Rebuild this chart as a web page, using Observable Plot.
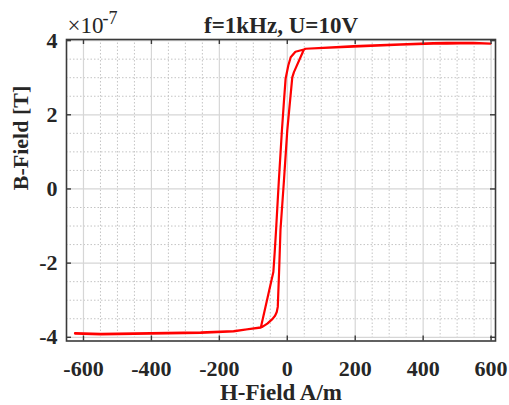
<!DOCTYPE html>
<html>
<head>
<meta charset="utf-8">
<script src="https://cdn.jsdelivr.net/npm/d3@7"></script>
<script src="https://cdn.jsdelivr.net/npm/@observablehq/plot@0.6"></script>
<style>
  html, body { margin: 0; padding: 0; background: #fff; }
</style>
</head>
<body>
<div id="chart"></div>
<script>
// H-field (A/m) and B-field (in units of 1e-7 T), traced along the hysteresis loop
const H = [-625, -549, -402, -255, -158, -78,
           -73.5, -58.8, -44, -36, -31, -28, -24, -20, -10, 0, 7.8, 14.7, 19.6, 49, 53.8,
           195, 333, 430, 470, 548, 598,
           548, 470, 430, 333, 195, 53.8, 49,
           24, 10, 3, -5, -10, -16, -25, -33, -37, -41, -78,
           -158, -255, -402, -549, -625];
const B = [-3.90, -3.92, -3.90, -3.88, -3.84, -3.73,
           -3.72, -3.63, -3.51, -3.42, -3.32, -3.18, -2.20, -1.10, 0.20, 1.58, 2.34, 3.01, 3.15, 3.76, 3.78,
           3.85, 3.90, 3.93, 3.94, 3.94, 3.92,
           3.93, 3.92, 3.92, 3.89, 3.84, 3.78, 3.76,
           3.70, 3.55, 3.33, 2.97, 2.34, 1.55, 0.20, -1.10, -1.70, -2.24, -3.74,
           -3.83, -3.87, -3.89, -3.91, -3.89];

const xTicks = [-600, -400, -200, 0, 200, 400, 600];
const yTicks = [-4, -2, 0, 2, 4];
const xMinor = [-550, -500, -450, -350, -300, -250, -150, -100, -50, 50, 100, 150, 250, 300, 350, 450, 500, 550];
const yMinor = [-3.5, -3, -2.5, -1.5, -1, -0.5, 0.5, 1, 1.5, 2.5, 3, 3.5];

const title = "f=1kHz, U=10V";
const xLabel = "H-Field A/m";
const yLabel = "B-Field [T]";
const expBase = "\u00d710";
const expPow = "-7";

const data = H.map((h, i) => ({H: h, B: B[i]}));

const W = 509, HT = 405, mL = 66, mR = 14, mT = 39, mB = 64.5;
const fw = W - mL - mR, fh = HT - mT - mB;
const ink = "#262626";

const chart = Plot.plot({
  width: W, height: HT,
  marginLeft: mL, marginRight: mR, marginTop: mT, marginBottom: mB,
  x: {domain: [-650, 613]},
  y: {domain: [-4.1, 4.03]},
  style: {fontFamily: "'Liberation Serif', 'Times New Roman', serif", background: "white", color: ink},
  marks: [
    Plot.ruleX(xMinor, {x: d => d, stroke: "#c4c4c4", strokeDasharray: "1.5,2", strokeWidth: 1}),
    Plot.ruleY(yMinor, {y: d => d, stroke: "#c4c4c4", strokeDasharray: "1.5,2", strokeWidth: 1}),
    Plot.ruleX(xTicks, {x: d => d, stroke: "#d6d6d6", strokeWidth: 1.2}),
    Plot.ruleY(yTicks, {y: d => d, stroke: "#d6d6d6", strokeWidth: 1.2}),
    Plot.line(data, {x: "H", y: "B", stroke: "#ff0000", strokeWidth: 2.2, strokeLinejoin: "round"}),
    Plot.frame({stroke: "#3a3a3a", strokeWidth: 1.6}),
    Plot.tickX(xTicks, {x: d => d, insetTop: fh - 5, stroke: "#3a3a3a", strokeWidth: 1.4}),
    Plot.tickX(xTicks, {x: d => d, insetBottom: fh - 5, stroke: "#3a3a3a", strokeWidth: 1.4}),
    Plot.tickY(yTicks, {y: d => d, insetRight: fw - 5, stroke: "#3a3a3a", strokeWidth: 1.4}),
    Plot.tickY(yTicks, {y: d => d, insetLeft: fw - 5, stroke: "#3a3a3a", strokeWidth: 1.4}),
    Plot.axisX({ticks: xTicks, tickSize: 0, tickPadding: 19, fontSize: 22, fontWeight: "bold", tickFormat: d => String(d), label: null}),
    Plot.axisY({ticks: yTicks, tickSize: 0, tickPadding: 9, fontSize: 22, fontWeight: "bold", tickFormat: d => String(d), label: null}),
    Plot.text([title], {frameAnchor: "top", dy: -14, text: d => d, fontSize: 23, fontWeight: "bold", lineAnchor: "middle", fill: ink}),
    Plot.text([expBase], {frameAnchor: "top-left", dx: 1, dy: -14, text: d => d, fontSize: 23, textAnchor: "start", lineAnchor: "middle", fill: ink}),
    Plot.text([expPow], {frameAnchor: "top-left", dx: 36, dy: -21, text: d => d, fontSize: 18, textAnchor: "start", lineAnchor: "middle", fill: ink}),
    Plot.text([xLabel], {frameAnchor: "bottom", dy: 52, text: d => d, fontSize: 23, fontWeight: "bold", lineAnchor: "middle", fill: ink}),
    Plot.text([yLabel], {frameAnchor: "left", dx: -45.5, rotate: -90, text: d => d, fontSize: 22, fontWeight: "bold", lineAnchor: "middle", fill: ink})
  ]
});
document.getElementById("chart").appendChild(chart);
</script>
</body>
</html>
